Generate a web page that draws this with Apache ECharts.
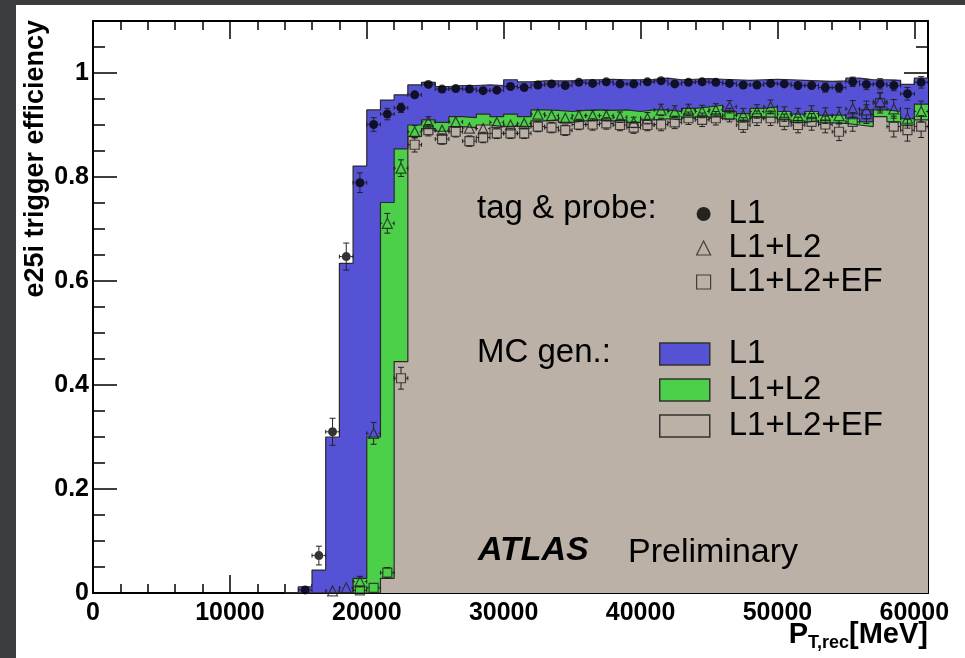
<!DOCTYPE html>
<html>
<head>
<meta charset="utf-8">
<script src="https://cdn.jsdelivr.net/npm/echarts@6/dist/echarts.min.js"></script>
<style>
  html, body { margin: 0; padding: 0; background: #fff; }
  #chart {
    width: 965px; height: 658px; box-sizing: border-box;
    border-top: 5px solid #3b3c40; border-left: 16px solid #3b3c40;
  }
</style>
</head>
<body>
<div id="chart"></div>
<script>
const FONT = '"Liberation Sans", Arial, Helvetica, sans-serif'

// histogram bins: 1000 MeV wide, first low edge 14000
const binStart = 14000
const binWidth = 1000

// MC generator efficiencies, one value per bin (14000 ... 60000)
const mcL1 = [0, 0.012, 0.044, 0.300, 0.634, 0.821, 0.929, 0.948, 0.958, 0.977, 0.982,
  0.974, 0.976, 0.976, 0.977, 0.976, 0.987, 0.983, 0.985, 0.985, 0.985, 0.987, 0.987, 0.988, 0.987, 0.987, 0.988, 0.990,
  0.987, 0.988, 0.989, 0.988, 0.987, 0.986, 0.987, 0.988, 0.987, 0.986, 0.985, 0.984, 0.985, 0.990, 0.987, 0.987, 0.986, 0.978, 0.990]
const mcL1L2 = [0, 0, 0, 0, 0, 0.028, 0.300, 0.751, 0.854, 0.900, 0.910,
  0.905, 0.916, 0.914, 0.921, 0.916, 0.921, 0.916, 0.929, 0.928, 0.926, 0.928, 0.929, 0.928, 0.929, 0.926, 0.929, 0.929,
  0.926, 0.932, 0.935, 0.938, 0.926, 0.922, 0.932, 0.935, 0.926, 0.921, 0.926, 0.919, 0.919, 0.912, 0.906, 0.929, 0.926, 0.912, 0.940]
const mcL1L2EF = [0, 0, 0, 0, 0, 0, 0, 0.028, 0.445, 0.878, 0.893,
  0.888, 0.897, 0.895, 0.900, 0.897, 0.898, 0.897, 0.908, 0.910, 0.905, 0.908, 0.910, 0.908, 0.910, 0.905, 0.910, 0.912,
  0.910, 0.915, 0.915, 0.916, 0.912, 0.906, 0.915, 0.915, 0.910, 0.905, 0.908, 0.904, 0.903, 0.900, 0.897, 0.916, 0.906, 0.900, 0.910]

// tag & probe points, at bin centres
const tpL1Start = 15500
const tpL1 = [0.006, 0.072, 0.310, 0.647, 0.789, 0.901, 0.921, 0.933, 0.958, 0.978,
  0.969, 0.970, 0.969, 0.966, 0.967, 0.974, 0.972, 0.977, 0.979, 0.976, 0.982, 0.980, 0.983, 0.979, 0.979, 0.983, 0.985,
  0.979, 0.982, 0.983, 0.982, 0.980, 0.977, 0.977, 0.980, 0.979, 0.976, 0.976, 0.972, 0.972, 0.983, 0.978, 0.979, 0.976, 0.960, 0.982]
const tpL1Err = [0.004, 0.018, 0.026, 0.026, 0.019, 0.013, 0.011, 0.009, 0.007, 0.006,
  0.006, 0.006, 0.006, 0.006, 0.006, 0.006, 0.006, 0.006, 0.006, 0.006, 0.006, 0.006, 0.006, 0.006, 0.006, 0.006, 0.006,
  0.006, 0.006, 0.006, 0.007, 0.007, 0.007, 0.007, 0.008, 0.008, 0.008, 0.008, 0.009, 0.009, 0.009, 0.010, 0.010, 0.010, 0.012, 0.011]

const tpL1L2Start = 17500
const tpL1L2 = [0.004, 0.010, 0.022, 0.307, 0.711, 0.817, 0.887, 0.906,
  0.890, 0.906, 0.894, 0.893, 0.905, 0.900, 0.903, 0.921, 0.918, 0.913, 0.918, 0.918, 0.918, 0.915, 0.905, 0.913, 0.929,
  0.926, 0.929, 0.926, 0.929, 0.935, 0.919, 0.926, 0.935, 0.921, 0.918, 0.922, 0.918, 0.918, 0.931, 0.929, 0.945, 0.931, 0.913, 0.926]
const tpL1L2Err = [0.004, 0.006, 0.010, 0.021, 0.019, 0.016, 0.012, 0.010,
  0.009, 0.009, 0.009, 0.009, 0.009, 0.009, 0.009, 0.009, 0.009, 0.009, 0.010, 0.010, 0.010, 0.010, 0.010, 0.011, 0.011,
  0.011, 0.011, 0.012, 0.012, 0.012, 0.013, 0.013, 0.013, 0.014, 0.014, 0.015, 0.015, 0.016, 0.016, 0.017, 0.018, 0.018, 0.019, 0.020]

const tpEFStart = 19500
const tpEF = [0.005, 0.010, 0.039, 0.413, 0.862, 0.890,
  0.873, 0.887, 0.869, 0.876, 0.884, 0.884, 0.884, 0.897, 0.895, 0.890, 0.901, 0.901, 0.903, 0.900, 0.895, 0.900, 0.901,
  0.905, 0.913, 0.910, 0.913, 0.919, 0.900, 0.913, 0.913, 0.906, 0.900, 0.906, 0.901, 0.887, 0.906, 0.921, 0.942, 0.897, 0.890, 0.897]
const tpEFErr = [0.004, 0.006, 0.010, 0.021, 0.014, 0.011,
  0.010, 0.010, 0.010, 0.010, 0.010, 0.010, 0.010, 0.010, 0.010, 0.010, 0.010, 0.011, 0.011, 0.011, 0.011, 0.011, 0.012,
  0.012, 0.012, 0.013, 0.013, 0.013, 0.014, 0.014, 0.014, 0.015, 0.015, 0.016, 0.016, 0.017, 0.018, 0.018, 0.019, 0.020, 0.021, 0.021]

const xMax = 61000
const yMax = 1.1
const blue = '#5652d6'
const green = '#4ccf49'
const beige = '#bbb1a7'
const edge = '#2a2a2a'

function histData(vals) {
  const pts = vals.map((v, i) => [binStart + i * binWidth, v])
  pts.push([binStart + vals.length * binWidth, vals[vals.length - 1]])
  return pts
}

function pointData(start, vals, errs) {
  return vals.map((v, i) => [start + i * binWidth, v, errs[i]])
}

function mcSeries(name, vals, fill) {
  return {
    name: name,
    type: 'line',
    step: 'end',
    symbol: 'none',
    silent: true,
    data: histData(vals),
    lineStyle: { color: edge, width: 1.2 },
    areaStyle: { color: fill, opacity: 1 },
    z: 2
  }
}

function errorBars(data, r) {
  return {
    type: 'custom',
    silent: true,
    clip: true,
    z: 3,
    data: data,
    encode: { x: 0, y: 1 },
    renderItem: function(params, api) {
      const x = api.value(0)
      const y = api.value(1)
      const e = api.value(2)
      const c = api.coord([x, y])
      const top = api.coord([x, y + e])[1]
      const bot = api.coord([x, y - e])[1]
      const left = api.coord([x - binWidth / 2, y])[0]
      const right = api.coord([x + binWidth / 2, y])[0]
      const segs = []
      if (c[1] - top > r) {
        segs.push([c[0], c[1] - r, c[0], top], [c[0] - 3, top, c[0] + 3, top])
      }
      if (bot - c[1] > r) {
        segs.push([c[0], c[1] + r, c[0], bot], [c[0] - 3, bot, c[0] + 3, bot])
      }
      segs.push([c[0] - r, c[1], left, c[1]], [left, c[1] - 2, left, c[1] + 2])
      segs.push([c[0] + r, c[1], right, c[1]], [right, c[1] - 2, right, c[1] + 2])
      return {
        type: 'group',
        children: segs.map(s => ({
          type: 'line',
          shape: { x1: s[0], y1: s[1], x2: s[2], y2: s[3] },
          style: { stroke: '#222', lineWidth: 1 }
        }))
      }
    }
  }
}

function pointSeries(name, data, symbol, size, style) {
  return {
    name: name,
    type: 'scatter',
    silent: true,
    symbol: symbol,
    symbolSize: size,
    data: data.map(p => [p[0], p[1]]),
    itemStyle: style,
    z: 4
  }
}

const labelFont = { fontFamily: FONT, fontWeight: 'bold', fontSize: 25, color: '#000' }

function xAx(position, interval, len, main) {
  return {
    type: 'value', position: position, min: 0, max: xMax, interval: interval,
    axisLine: { show: main, onZero: false, lineStyle: { color: '#000', width: 2 } },
    axisTick: { show: true, inside: true, length: len, lineStyle: { color: '#000', width: 1.5 } },
    axisLabel: position === 'bottom' && main ? Object.assign({
      margin: 8,
      formatter: v => (v % 10000 === 0 ? String(v) : '')
    }, labelFont) : { show: false },
    splitLine: { show: false }
  }
}

function yAx(position, interval, len, main) {
  return {
    type: 'value', position: position, min: 0, max: yMax, interval: interval,
    axisLine: { show: main, onZero: false, lineStyle: { color: '#000', width: 2 } },
    axisTick: { show: true, inside: true, length: len, lineStyle: { color: '#000', width: 1.5 } },
    axisLabel: position === 'left' && main ? Object.assign({
      margin: 4,
      formatter: v => (Math.abs(v * 5 - Math.round(v * 5)) < 1e-6 ? String(+v.toFixed(1)) : '')
    }, labelFont) : { show: false },
    splitLine: { show: false }
  }
}

const dL1 = pointData(tpL1Start, tpL1, tpL1Err)
const dL1L2 = pointData(tpL1L2Start, tpL1L2, tpL1L2Err)
const dEF = pointData(tpEFStart, tpEF, tpEFErr)

const openStyle = { color: 'rgba(0,0,0,0)', borderColor: '#222', borderWidth: 1.2 }

function label(text, x, y, font) {
  return {
    type: 'text', x: x, y: y, z: 20, silent: true,
    style: { text: text, font: font, fill: '#000', verticalAlign: 'middle' }
  }
}

const chart = echarts.init(document.getElementById('chart'))
chart.setOption({
  animation: false,
  backgroundColor: '#fff',
  grid: { left: 77, top: 16, right: 37, bottom: 65, containLabel: false },
  xAxis: [
    xAx('bottom', 10000, 18, true),
    xAx('bottom', 2000, 9, false),
    xAx('top', 10000, 18, true),
    xAx('top', 2000, 9, false)
  ],
  yAxis: [
    yAx('left', 0.2, 24, true),
    yAx('left', 0.05, 12, false),
    yAx('right', 0.2, 24, true),
    yAx('right', 0.05, 12, false)
  ],
  legend: [
    {
      selectedMode: false,
      orient: 'vertical',
      left: 680, top: 192, padding: 0, itemGap: 0,
      itemWidth: 14, itemHeight: 14,
      textStyle: { fontFamily: FONT, fontSize: 33, color: '#000', lineHeight: 34, padding: [0, 0, 0, 13] },
      formatter: name => ({ tpL1: 'L1', tpL1L2: 'L1+L2', tpEF: 'L1+L2+EF' })[name],
      data: [
        { name: 'tpL1', icon: 'circle', itemStyle: { color: '#000', borderWidth: 0 } },
        { name: 'tpL1L2', icon: 'triangle', itemStyle: openStyle },
        { name: 'tpEF', icon: 'rect', itemStyle: openStyle }
      ]
    },
    {
      selectedMode: false,
      orient: 'vertical',
      left: 643, top: 331, padding: 0, itemGap: 0,
      itemWidth: 50, itemHeight: 22,
      textStyle: { fontFamily: FONT, fontSize: 33, color: '#000', lineHeight: 36, padding: [0, 0, 0, 14] },
      formatter: name => ({ mcL1: 'L1', mcL1L2: 'L1+L2', mcEF: 'L1+L2+EF' })[name],
      data: [
        { name: 'mcL1', icon: 'rect', itemStyle: { color: blue, borderColor: '#333', borderWidth: 1.5 } },
        { name: 'mcL1L2', icon: 'rect', itemStyle: { color: green, borderColor: '#333', borderWidth: 1.5 } },
        { name: 'mcEF', icon: 'rect', itemStyle: { color: beige, borderColor: '#333', borderWidth: 1.5 } }
      ]
    }
  ],
  graphic: [
    {
      type: 'text', x: 20, y: 15, z: 20, rotation: Math.PI / 2, silent: true,
      style: { text: 'e25i trigger efficiency', font: 'bold 27px ' + FONT, fill: '#000', align: 'right', verticalAlign: 'middle' }
    },
    {
      type: 'text', x: 912, y: 613, z: 20, silent: true,
      style: {
        text: '{m|P}{s|T,rec}{m|[MeV]}', align: 'right', verticalAlign: 'top',
        rich: {
          m: { fontFamily: FONT, fontWeight: 'bold', fontSize: 29, lineHeight: 34, fill: '#000' },
          s: { fontFamily: FONT, fontWeight: 'bold', fontSize: 18, lineHeight: 34, verticalAlign: 'bottom', fill: '#000' }
        }
      }
    },
    label('tag & probe:', 461, 204, '33px ' + FONT),
    label('MC gen.:', 461, 348, '33px ' + FONT),
    label('ATLAS', 462, 546, 'italic bold 34px ' + FONT),
    label('Preliminary', 612, 548, '34px ' + FONT)
  ],
  series: [
    mcSeries('mcL1', mcL1, blue),
    mcSeries('mcL1L2', mcL1L2, green),
    mcSeries('mcEF', mcL1L2EF, beige),
    errorBars(dL1, 4.5),
    errorBars(dL1L2, 5),
    errorBars(dEF, 4.5),
    pointSeries('tpL1', dL1, 'circle', 9, { color: '#000' }),
    pointSeries('tpL1L2', dL1L2, 'triangle', 10, openStyle),
    pointSeries('tpEF', dEF, 'rect', 9, openStyle)
  ]
})
</script>
</body>
</html>
